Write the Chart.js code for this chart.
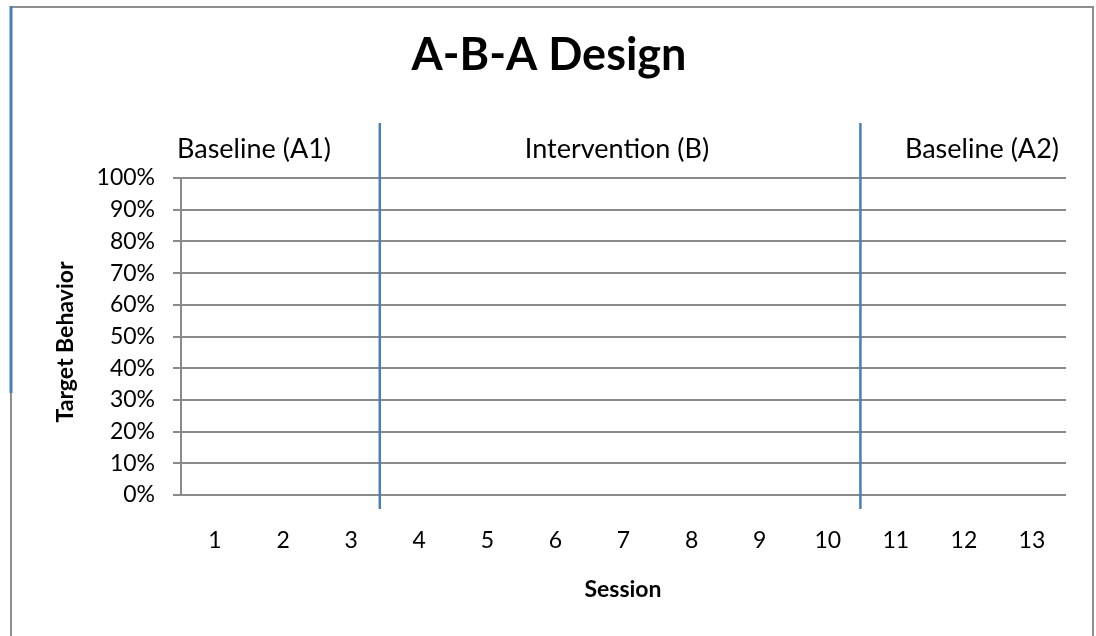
<!DOCTYPE html>
<html>
<head>
<meta charset="utf-8">
<title>A-B-A Design</title>
<script src="https://cdn.jsdelivr.net/npm/chart.js@4.4.1/dist/chart.umd.min.js"></script>
<style>
  html, body { margin: 0; padding: 0; background: #ffffff; }
  #wrap { width: 1096px; height: 636px; position: relative; }
</style>
</head>
<body>
<div id="wrap"><canvas id="chart" width="1096" height="636"></canvas></div>
<script>
// Sessions along the x axis
const sessions = ['1', '2', '3', '4', '5', '6', '7', '8', '9', '10', '11', '12', '13'];
// Percentage of target behavior per session (not yet recorded)
const targetBehavior = [null, null, null, null, null, null, null, null, null, null, null, null, null];
// Y axis range and step, in percent
const yRange = [0, 100];
const yStep = 10;
// Phases and the session positions where the phase-change lines sit
const phaseNames = ['Baseline (A1)', 'Intervention (B)', 'Baseline (A2)'];
const phaseChangeAt = [3.42, 10.48];

const FONT = 'Lato, "Open Sans", "Liberation Sans", sans-serif';
const GRID = '#8a8a8a';
const PHASE_BLUE = '#4a7ebb';

const decorations = {
  id: 'decorations',
  afterDraw(chart) {
    const { ctx, chartArea: a, scales: { x } } = chart;
    ctx.save();

    // outer frame
    ctx.lineWidth = 2;
    ctx.strokeStyle = '#8f8f8f';
    ctx.beginPath();
    ctx.moveTo(11, 640); ctx.lineTo(11, 7); ctx.lineTo(1093, 7); ctx.lineTo(1093, 640);
    ctx.stroke();
    ctx.lineWidth = 3;
    ctx.strokeStyle = PHASE_BLUE;
    ctx.beginPath();
    ctx.moveTo(11, 6); ctx.lineTo(11, 393);
    ctx.stroke();

    // phase-change lines
    ctx.lineWidth = 2.5;
    ctx.strokeStyle = PHASE_BLUE;
    phaseChangeAt.forEach(s => {
      const px = x.getPixelForValue(s - 1);
      ctx.beginPath();
      ctx.moveTo(px, a.top - 55);
      ctx.lineTo(px, a.bottom + 14);
      ctx.stroke();
    });

    ctx.fillStyle = '#000000';
    // title
    ctx.font = 'bold 45px ' + FONT;
    ctx.textAlign = 'center';
    ctx.textBaseline = 'alphabetic';
    ctx.fillText('A-B-A Design', 549, 70);

    // phase labels
    ctx.font = '27px ' + FONT;
    const y0 = 158;
    ctx.textAlign = 'left';
    ctx.fillText(phaseNames[0], a.left - 4, y0);
    ctx.textAlign = 'center';
    ctx.fillText(phaseNames[1], 617, y0);
    ctx.textAlign = 'right';
    ctx.fillText(phaseNames[2], a.right - 7, y0);

    // axis titles
    ctx.font = 'bold 23px ' + FONT;
    ctx.textAlign = 'center';
    ctx.textBaseline = 'middle';
    ctx.fillText('Session', 623, 590);
    ctx.translate(66, 342);
    ctx.rotate(-Math.PI / 2);
    ctx.fillText('Target Behavior', 0, 0);

    ctx.restore();
  }
};

function build() {
  new Chart(document.getElementById('chart'), {
    type: 'line',
    data: {
      labels: sessions,
      datasets: [{
        label: 'Target Behavior',
        data: targetBehavior,
        borderColor: PHASE_BLUE,
        backgroundColor: PHASE_BLUE,
        spanGaps: false
      }]
    },
    options: {
      responsive: false,
      animation: false,
      devicePixelRatio: 1,
      layout: { padding: { left: 0, right: 30, top: 178, bottom: 0 } },
      plugins: {
        legend: { display: false },
        title: { display: false },
        tooltip: { enabled: false }
      },
      scales: {
        x: {
          type: 'category',
          offset: true,
          grid: { display: false, drawTicks: false },
          border: { display: false },
          ticks: {
            color: '#000000',
            font: { family: FONT, size: 23 },
            padding: 32,
            maxRotation: 0,
            autoSkip: false
          },
          afterFit(scale) { scale.height = 141; }
        },
        y: {
          min: yRange[0],
          max: yRange[1],
          grid: { color: GRID, lineWidth: 2, tickLength: 8, tickColor: GRID, drawTicks: true },
          border: { display: true, color: GRID, width: 2 },
          ticks: {
            stepSize: yStep,
            color: '#000000',
            font: { family: FONT, size: 23 },
            padding: 18,
            callback: v => v + '%'
          },
          afterFit(scale) { scale.width = 181; }
        }
      }
    },
    plugins: [decorations]
  });
}

const fontLoads = ['23px Lato', 'bold 45px Lato', 'bold 23px Lato'].map(f => document.fonts.load(f).catch(() => null));
Promise.all(fontLoads).then(build, build);
</script>
</body>
</html>
